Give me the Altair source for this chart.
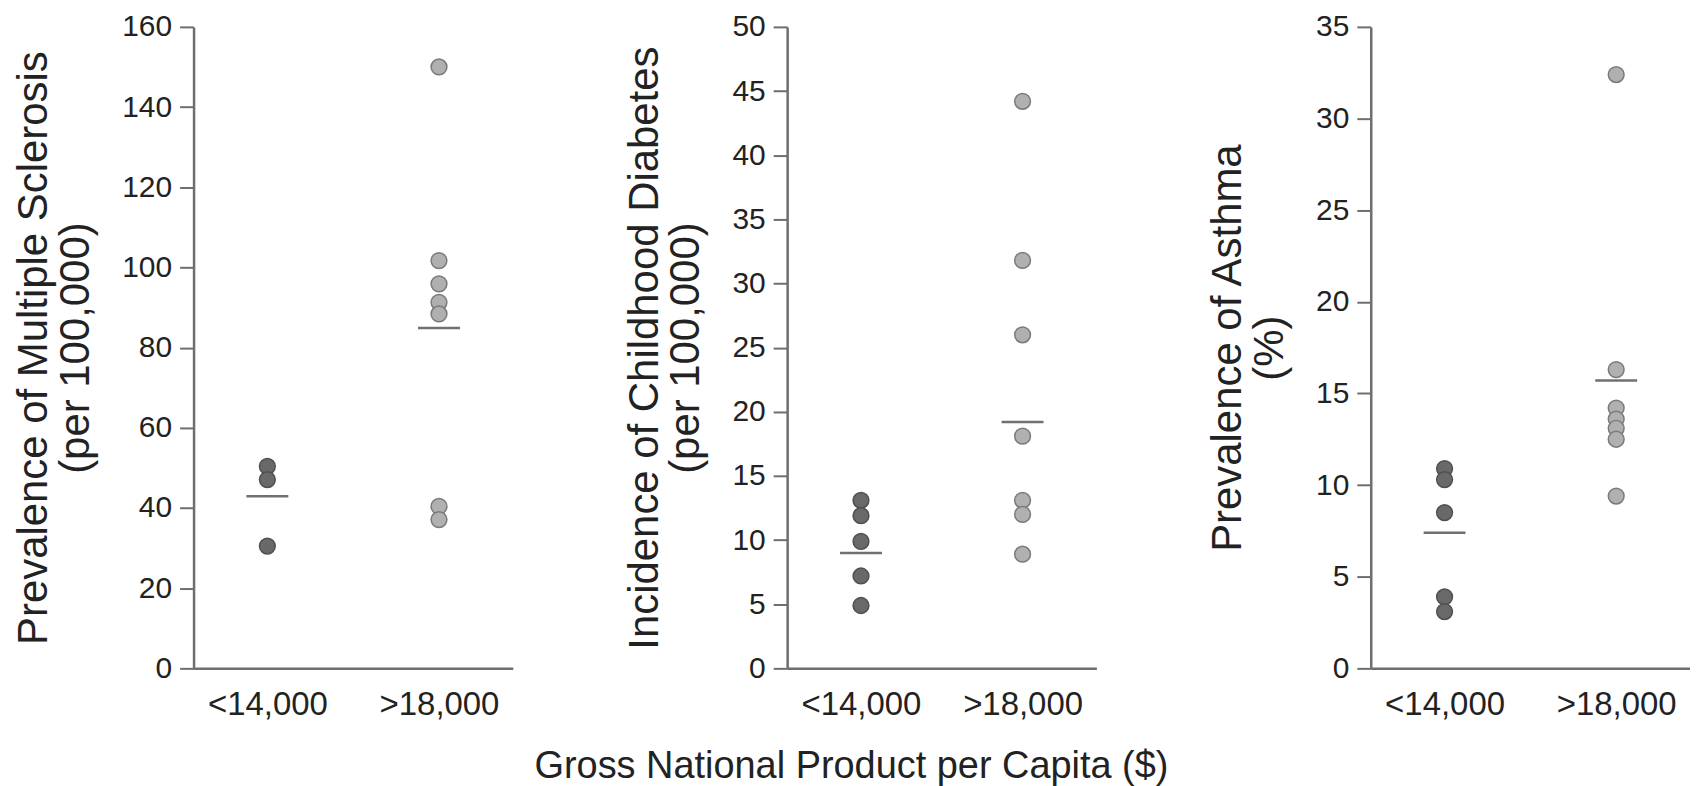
import altair as alt
import pandas as pd

groups = ["<14,000", ">18,000"]

ms_low = [50.4, 47.1, 30.5]
ms_high = [150.0, 101.7, 95.9, 91.3, 88.4, 40.4, 37.1]
ms_mean = [42.9, 84.9]

db_low = [13.1, 11.9, 9.9, 7.2, 4.9]
db_high = [44.2, 31.8, 26.0, 18.1, 13.1, 12.0, 8.9]
db_mean = [9.0, 19.2]

as_low = [10.9, 10.3, 8.5, 3.9, 3.1]
as_high = [32.4, 16.3, 14.2, 13.6, 13.1, 12.5, 9.4]
as_mean = [7.4, 15.7]

ms_title = ["Prevalence of Multiple Sclerosis", "(per 100,000)"]
db_title = ["Incidence of Childhood Diabetes", "(per 100,000)"]
as_title = ["Prevalence of  Asthma", "(%)"]

x_title = "Gross National Product per Capita ($)"

FONT = "Liberation Sans"
AXIS_GRAY = "#6e6e6e"
TEXT = "#222222"


def panel(low, high, means, ymax, step, title, width, pad):
    pts = pd.DataFrame(
        {"group": [groups[0]] * len(low) + [groups[1]] * len(high),
         "value": list(low) + list(high)}
    )
    mdf = pd.DataFrame({"group": groups, "value": means})
    x = alt.X(
        "group:N",
        scale=alt.Scale(type="point", domain=groups, padding=pad),
        axis=alt.Axis(
            title=None, labelAngle=0, ticks=False, labelFontSize=33,
            labelPadding=20, labelColor=TEXT, labelFont=FONT,
            domainColor=AXIS_GRAY, domainWidth=2.5,
        ),
    )
    y = alt.Y(
        "value:Q",
        scale=alt.Scale(domain=[0, ymax], nice=False, zero=True),
        axis=alt.Axis(
            values=list(range(0, ymax + 1, step)), title=title,
            titleFontSize=42, titleLineHeight=42, titlePadding=24,
            titleFontWeight="normal", titleFont=FONT, titleColor=TEXT,
            labelFontSize=30, labelFont=FONT, labelColor=TEXT,
            tickSize=14, tickColor=AXIS_GRAY, tickWidth=2,
            labelPadding=8, grid=False,
            domainColor=AXIS_GRAY, domainWidth=2.5,
        ),
    )
    dots = alt.Chart(pts).mark_point(
        filled=True, size=250, opacity=1, strokeWidth=1.5
    ).encode(
        x=x, y=y,
        fill=alt.Fill("group:N", scale=alt.Scale(domain=groups, range=["#696969", "#b0b0b0"]), legend=None),
        stroke=alt.Stroke("group:N", scale=alt.Scale(domain=groups, range=["#505050", "#7a7a7a"]), legend=None),
    )
    mean = alt.Chart(mdf).mark_tick(size=42, thickness=2.5, color="#333333").encode(x=x, y=y)
    return alt.layer(dots, mean).properties(width=width, height=643)


p1 = panel(ms_low, ms_high, ms_mean, 160, 20, ms_title, 320, 0.43)
p2 = panel(db_low, db_high, db_mean, 50, 5, db_title, 310, 0.457)
p3 = panel(as_low, as_high, as_mean, 35, 5, as_title, 320, 0.43)

chart = alt.hconcat(p1, p2, p3, spacing=110).properties(
    title=alt.TitleParams(
        x_title, orient="bottom", anchor="middle", fontSize=38,
        fontWeight="normal", font=FONT, color=TEXT, offset=27,
    ),
    padding={"left": 4, "top": 3, "right": 0, "bottom": 0},
).configure(background="white").configure_view(strokeWidth=0)

chart.save("out.html", embed_options={"renderer": "svg", "actions": False})
